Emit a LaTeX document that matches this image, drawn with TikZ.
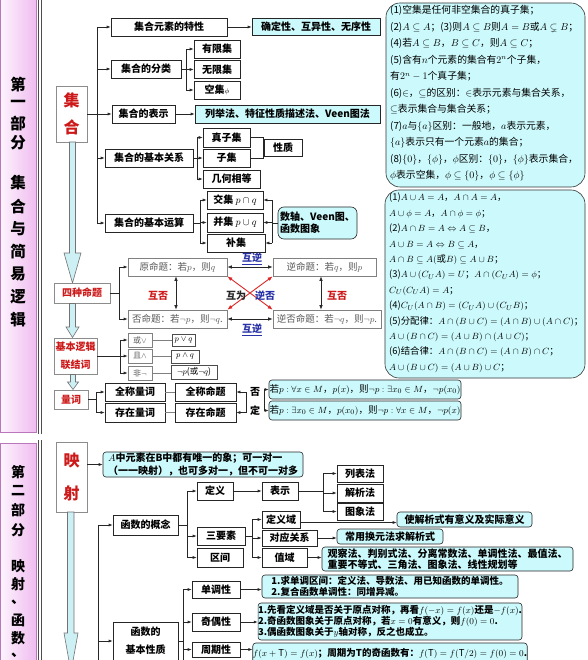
\documentclass[tikz,border=0pt]{standalone}
\usepackage{amsmath}
\usepackage{amssymb}
\usepackage{fontspec}
\setmainfont{Noto Sans CJK SC}
\usetikzlibrary{arrows.meta,calc}
\definecolor{cyanf}{RGB}{204,250,252}
\definecolor{redt}{RGB}{205,25,25}
\definecolor{redc}{RGB}{220,40,40}
\definecolor{bluet}{RGB}{40,50,165}
\definecolor{pinkl}{RGB}{253,244,253}
\definecolor{pinkr}{RGB}{240,188,240}
\definecolor{pinkd}{RGB}{185,120,185}
\definecolor{arrf}{RGB}{205,240,245}
\newcommand{\bxn}[7]{\node[#2, minimum width={(#5)-(#3)}, minimum height={(#6)-(#4)}] (#1) at ({((#3)+(#5))/2},{((#4)+(#6))/2}) {#7};}
\tikzset{
 bx/.style={draw=black!85, line width=0.6pt, fill=white, inner sep=0pt, align=center, font=\fontsize{10}{12}\selectfont\bfseries},
 cy/.style={bx, fill=cyanf},
 cyr/.style={cy, rounded corners=3pt},
 cyl/.style={cyr, align=left},
 rbx/.style={draw=black!45, line width=0.7pt, fill=white, inner sep=0pt, align=center, text=redt, font=\fontsize{10}{18}\selectfont\bfseries},
 gbx/.style={draw=black!50, line width=0.6pt, fill=white, inner sep=0pt, text=black!65, font=\fontsize{9.5}{11}\selectfont},
 sbx/.style={draw=black!70, line width=0.6pt, fill=white, inner sep=0pt, font=\fontsize{8.5}{10}\selectfont},
 side/.style={font=\fontsize{15.5}{15.5}\selectfont\bfseries, inner sep=0pt},
 arr/.style={-{Latex[length=4pt,width=3pt]}, line width=0.6pt, draw=black!85},
 ln/.style={line width=0.6pt, draw=black!85},
 gln/.style={line width=0.6pt, draw=black!50},
 darr/.style={{Latex[length=4.5pt,width=3.5pt]}-{Latex[length=4.5pt,width=3.5pt]}, line width=0.7pt, draw=black!85},
 rarr/.style={{Latex[length=5pt,width=4pt]}-{Latex[length=5pt,width=4pt]}, line width=0.9pt, draw=redc},
 bigarr/.style={fill=arrf, draw=black!55, line width=0.6pt},
 lab/.style={inner sep=0pt, font=\fontsize{10}{12}\selectfont\bfseries},
 bigbox/.style={draw=black!80, line width=0.6pt, fill=cyanf, rounded corners=14pt, inner sep=0pt},
 rtxt/.style={anchor=north west, align=left, inner sep=0pt},
}
\begin{document}
\begin{tikzpicture}[x=1pt,y=-1pt]
\useasboundingbox (0,0) rectangle (587,660);
\fill[white] (0,0) rectangle (587,660);
% ---------- sidebars ----------
\shadedraw[left color=pinkl, right color=pinkr, draw=pinkd, line width=0.8pt] (0,-2) rectangle (36,432);
\shadedraw[left color=pinkl, right color=pinkr, draw=pinkd, line width=0.8pt] (0,443) rectangle (36,665);
\draw[line width=0.8pt, black!70] (38.5,0) -- (38.5,434) (41.5,0) -- (41.5,434);
\draw[line width=0.8pt, black!70] (38.5,440) -- (38.5,660) (41.5,440) -- (41.5,660);
\foreach \c/\y [count=\i] in {第/85,一/104,部/124,分/143,集/183,合/207,与/229,简/252,易/274,逻/297,辑/320}
  \node[side] (sa\i) at (18,\y) {\c};
\foreach \c/\y [count=\i] in {第/472,二/491,部/510,分/530,映/566,射/584,、/602,函/620,数/638,、/655}
  \node[side, font=\fontsize{14}{14}\selectfont\bfseries] (sb\i) at (18,\y) {\c};
% ---------- part 1 left column ----------
\bxn{jh}{rbx, font=\fontsize{16}{27}\selectfont\bfseries}{56}{86}{87}{142}{集\\合}
\draw[bigarr] (69.5,142) -- (75.5,142) -- (75.5,253) -- (81,253) -- (72.5,283) -- (64,253) -- (69.5,253) -- cycle;
\bxn{sz}{rbx}{54}{283}{110}{303}{四种命题}
\draw[bigarr] (69.5,303.5) -- (75.5,303.5) -- (75.5,327) -- (79,327) -- (72.5,337.5) -- (66,327) -- (69.5,327) -- cycle;
\bxn{jb}{rbx}{54}{338}{97}{374}{基本逻辑\\联结词}
\draw[bigarr] (70.5,374.5) -- (75.5,374.5) -- (75.5,382) -- (78.5,382) -- (73,389.5) -- (67.5,382) -- (70.5,382) -- cycle;
\bxn{lc}{rbx}{54}{390}{88}{409}{量词}
% ---------- set tree ----------
\coordinate (t1a) at (97,27);
\coordinate (t1b) at (97,223);
\draw[ln] (t1a) -- (t1b);
\draw[ln] (jh.east) -- (jh.east -| t1a);
\bxn{a1}{bx}{111}{18}{227}{36}{集合元素的特性}
\bxn{a1r}{cy}{252}{18}{380}{35}{确定性、互异性、无序性}
\bxn{a2}{bx}{111}{60}{181}{78}{集合的分类}
\bxn{c1}{bx}{194}{40}{240}{58}{有限集}
\bxn{c2}{bx}{194}{60.5}{240}{78.5}{无限集}
\bxn{c3}{bx}{194}{81}{240}{99}{空集{\fontsize{7}{8}\selectfont$\phi$}}
\bxn{a3}{bx}{112}{105}{175}{123}{集合的表示}
\bxn{a3r}{cy}{195}{105}{380}{123}{列举法、特征性质描述法、Veen图法}
\bxn{a4}{bx}{105}{149}{193}{167}{集合的基本关系}
\bxn{d1}{bx}{203}{128}{250}{147}{真子集}
\bxn{d2}{bx}{203}{149}{250}{167}{子集}
\bxn{d3}{bx}{203}{170}{260}{188}{几何相等}
\bxn{xz}{bx}{264}{139}{302}{156}{性质}
\bxn{a5}{bx}{105}{214}{193}{232}{集合的基本运算}
\bxn{e1}{bx}{207}{191}{263}{209}{交集 $p\cap q$}
\bxn{e2}{bx}{207}{213}{263}{232}{并集 $p\cup q$}
\bxn{e3}{bx}{207}{234}{265}{252}{补集}
\bxn{f1}{cyr, rounded corners=6pt, align=left}{278}{207}{357}{239}{数轴、Veen图、\\函数图象}
\foreach \n in {a1,a2,a3,a4,a5} \draw[arr] (\n.west -| t1a) -- (\n.west);
\draw[arr] (a1.east) -- (a1.east -| a1r.west);
\draw[arr] (a3.east) -- (a3.east -| a3r.west);
\coordinate (t2a) at (186,49);
\coordinate (t2b) at (186,90);
\draw[ln] (t2a) -- (t2b);
\draw[ln] (a2.east) -- (a2.east -| t2a);
\foreach \n in {c1,c2,c3} \draw[arr] (\n.west -| t2a) -- (\n.west);
\coordinate (t3a) at (197,137.5);
\coordinate (t3b) at (197,179);
\draw[ln] (t3a) -- (t3b);
\draw[ln] (a4.east) -- (a4.east -| t3a);
\foreach \n in {d1,d2,d3} \draw[arr] (\n.west -| t3a) -- (\n.west);
\coordinate (br1) at (263.5,137.5);
\draw[ln] (d1.east) -- (d1.east -| br1) -- (d2.east -| br1) -- (d2.east);
\coordinate (t4a) at (200,200);
\coordinate (t4b) at (200,243);
\draw[ln] (t4a) -- (t4b);
\draw[ln] (a5.east) -- (a5.east -| t4a);
\foreach \n in {e1,e2,e3} \draw[arr] (\n.west -| t4a) -- (\n.west);
\coordinate (br2) at (272,200);
\draw[ln] (br2) -- (e3.east -| br2);
\draw[ln] (f1.west) -- (f1.west -| br2);
\foreach \n in {e1,e2,e3} \draw[arr] (\n.east -| br2) -- (\n.east);
% ---------- right boxes ----------
\bxn{rb1}{bigbox}{386}{3}{585}{187}{}
\node[rtxt, font=\fontsize{9.8}{16.5}\selectfont] (rb1t) at (390,5.5) {%
(1)空集是任何非空集合的真子集；\\
(2)$A\subseteq A$；(3)则$A\subseteq B$则$A=B$或$A\subsetneq B$；\\
(4)若$A\subseteq B$，$B\subseteq C$，则$A\subseteq C$；\\
(5)含有$n$个元素的集合有$2^n$个子集，\\
有$2^n-1$个真子集；\\
(6)$\in$，$\subseteq$的区别：$\in$表示元素与集合关系，\\
$\subseteq$表示集合与集合关系；\\
(7)$a$与$\{a\}$区别：一般地，$a$表示元素，\\
$\{a\}$表示只有一个元素$a$的集合；\\
(8)$\{0\}$，$\{\phi\}$，$\phi$区别：$\{0\}$，$\{\phi\}$表示集合，\\
$\phi$表示空集，$\phi\subseteq\{0\}$，$\phi\subseteq\{\phi\}$};
\bxn{rb2}{bigbox}{385}{190}{585}{378}{}
\node[rtxt, font=\fontsize{9.4}{15.4}\selectfont] (rb2t) at (389,193) {%
(1)$A\cup A=A$，$A\cap A=A$，\\
$A\cup\phi=A$，$A\cap\phi=\phi$；\\
(2)$A\cap B=A\Leftrightarrow A\subseteq B$，\\
$A\cup B=A\Leftrightarrow B\subseteq A$，\\
$A\cap B\subseteq A(\mbox{或}B)\subseteq A\cup B$；\\
(3)$A\cup(C_U A)=U$；$A\cap(C_U A)=\phi$；\\
$C_U(C_U A)=A$；\\
(4)$C_U(A\cap B)=(C_U A)\cup(C_U B)$；\\
(5)分配律：$A\cap(B\cup C)=(A\cap B)\cup(A\cap C)$；\\
$A\cup(B\cap C)=(A\cup B)\cap(A\cup C)$；\\
(6)结合律：$A\cap(B\cap C)=(A\cap B)\cap C$；\\
$A\cup(B\cup C)=(A\cup B)\cup C$；};
% ---------- four propositions ----------
\bxn{g1}{gbx}{128}{258}{227}{276}{原命题：若$p$，则$q$}
\bxn{g2}{gbx}{273}{258}{376}{276}{逆命题：若$q$，则$p$}
\bxn{g3}{gbx}{128}{310}{227}{328}{否命题：若$\neg p$，则$\neg q$.}
\bxn{g4}{gbx}{273}{310}{381}{328}{逆否命题：若$\neg q$，则$\neg p$.}
\coordinate (t5a) at (119,267);
\coordinate (t5b) at (119,319);
\draw[ln] (sz.east) -- (sz.east -| t5a);
\draw[ln] (t5a) -- (t5b);
\draw[arr] (g1.west -| t5a) -- (g1.west);
\draw[arr] (g3.west -| t5a) -- (g3.west);
\draw[darr] (g1.east) -- (g1.east -| g2.west);
\draw[darr] (g3.east) -- (g3.east -| g4.west);
\coordinate (v1) at (176,0);
\coordinate (v2) at (321,0);
\draw[darr] (g1.south -| v1) -- (g3.north -| v1);
\draw[darr] (g2.south -| v2) -- (g4.north -| v2);
\draw[rarr] (g1.south east) -- (g4.north west);
\draw[rarr] (g2.south west) -- (g3.north east);
\node[lab, text=bluet] (hn1) at (252,259) {\underline{互逆}};
\node[lab, text=bluet] (hn2) at (252,330) {\underline{互逆}};
\node[lab, text=redt] (hf1) at (158,296) {互否};
\node[lab, text=redt] (hf2) at (337,296) {互否};
\node[lab, text=black!85] (hw1) at (236,296) {互为};
\node[lab, text=bluet] (hw2) at (265,296) {逆否};
% ---------- logic connectives ----------
\bxn{h1}{gbx, font=\fontsize{8}{10}\selectfont}{128}{333}{152}{347}{或$\vee$}
\bxn{h2}{gbx, font=\fontsize{8}{10}\selectfont}{128}{349}{152}{363}{且$\wedge$}
\bxn{h3}{gbx, font=\fontsize{8}{10}\selectfont}{128}{366}{152}{380}{非$\neg$}
\bxn{i1}{sbx}{172}{334}{195}{346}{$p\vee q$}
\bxn{i2}{sbx}{171}{350}{199}{363}{$p\wedge q$}
\bxn{i3}{sbx}{171}{365}{217}{379}{$\neg p$(或$\neg q$)}
\coordinate (t6a) at (120,340);
\coordinate (t6b) at (120,373);
\draw[ln] (jb.east) -- (jb.east -| t6a);
\draw[ln] (t6a) -- (t6b);
\foreach \n in {h1,h2,h3} \draw[arr] (\n.west -| t6a) -- (\n.west);
\draw[gln] (h1.east) -- (h1.east -| i1.west);
\draw[gln] (h2.east) -- (h2.east -| i2.west);
\draw[gln] (h3.east) -- (h3.east -| i3.west);
% ---------- quantifiers ----------
\bxn{k1}{bx}{105}{383}{165}{401}{全称量词}
\bxn{k2}{bx}{105}{403}{165}{422}{存在量词}
\bxn{m1}{bx}{175}{383}{236}{401}{全称命题}
\bxn{m2}{bx}{175}{403}{236}{422}{存在命题}
\coordinate (t7a) at (96,392);
\coordinate (t7b) at (96,412.5);
\draw[ln] (lc.east) -- (lc.east -| t7a);
\draw[ln] (t7a) -- (t7b);
\draw[arr] (k1.west -| t7a) -- (k1.west);
\draw[arr] (k2.west -| t7a) -- (k2.west);
\draw[gln] (k1.east) -- (m1.west);
\draw[gln] (k2.east) -- (m2.west);
\bxn{n1}{cyr, font=\fontsize{9.5}{11}\selectfont}{269}{380}{461}{399}{若$p:\forall x\in M$，$p(x)$，则$\neg p:\exists x_0\in M$，$\neg p(x_0)$}
\bxn{n2}{cyr, font=\fontsize{9.5}{11}\selectfont}{269}{401}{461}{420}{若$p:\exists x_0\in M$，$p(x_0)$，则$\neg p:\forall x\in M$，$\neg p(x)$}
\coordinate (b5) at (246,392);
\draw[ln] (b5) -- (b5 |- m2.east);
\draw[arr] (b5) -- (m1.east);
\draw[arr] (b5 |- m2.east) -- (m2.east);
\coordinate (b6) at (264,389.5);
\draw[ln] (b6) -- (b6 |- n2.west);
\draw[arr] (b6) -- (n1.west);
\draw[arr] (b6 |- n2.west) -- (n2.west);
\node[lab] (fd1) at (255,392) {否};
\node[lab] (fd2) at (255,411) {定};
% ---------- part 2 ----------
\bxn{ys}{rbx, font=\fontsize{16}{33}\selectfont\bfseries}{56}{442}{87}{512}{映\\射}
\draw[bigarr] (67.5,512) -- (74,512) -- (74,633) -- (78,633) -- (71,672) -- (64,633) -- (67.5,633) -- cycle;
\bxn{ya}{cyl, font=\fontsize{10}{12.5}\selectfont\bfseries}{103}{452}{303}{477}{$A$中元素在B中都有唯一的象；可一对一\\（一一映射），也可多对一，但不可一对多}
\draw[arr] (ys.east |- ya.west) -- (ya.west);
\coordinate (t8a) at (98,525);
\coordinate (t8b) at (98,662);
\draw[ln] (t8a) -- (t8b);
\bxn{p1}{bx}{113}{515}{178}{535}{函数的概念}
\bxn{p2}{bx, font=\fontsize{10}{18}\selectfont\bfseries}{113}{622}{178}{660}{函数的\\基本性质}
\draw[arr] (p1.west -| t8a) -- (p1.west);
\draw[arr] (p2.west -| t8a) -- (p2.west);
\bxn{q1}{bx}{197}{482}{233}{500}{定义}
\bxn{q2}{bx}{197}{527}{245}{545}{三要素}
\bxn{q3}{bx}{197}{548}{243}{567}{区间}
\coordinate (t9a) at (187,491);
\coordinate (t9b) at (187,557.5);
\draw[ln] (p1.east) -- (p1.east -| t9a);
\draw[ln] (t9a) -- (t9b);
\foreach \n in {q1,q2,q3} \draw[arr] (\n.west -| t9a) -- (\n.west);
\bxn{r1}{bx}{262}{482}{298}{500}{表示}
\draw[arr] (q1.east) -- (r1.west);
\bxn{s1}{bx}{337}{465}{383}{482}{列表法}
\bxn{s2}{bx}{337}{484}{383}{502}{解析法}
\bxn{s3}{bx}{337}{503}{383}{520}{图象法}
\coordinate (t10a) at (323,473.5);
\coordinate (t10b) at (323,511.5);
\draw[ln] (r1.east) -- (r1.east -| t10a);
\draw[ln] (t10a) -- (t10b);
\foreach \n in {s1,s2,s3} \draw[arr] (\n.west -| t10a) -- (\n.west);
\bxn{u1}{bx}{262}{511}{300}{528}{定义域}
\bxn{u2}{bx}{262}{530}{317}{546}{对应关系}
\bxn{u3}{bx}{262}{548}{307}{567}{值域}
\coordinate (t11a) at (252,519.5);
\coordinate (t11b) at (252,557.5);
\draw[ln] (q2.east) -- (q2.east -| t11a);
\draw[ln] (t11a) -- (t11b);
\foreach \n in {u1,u2,u3} \draw[arr] (\n.west -| t11a) -- (\n.west);
\bxn{w1}{cyr}{397}{512}{532}{527}{使解析式有意义及实际意义}
\bxn{w2}{cyr}{337}{529}{443}{544}{常用换元法求解析式}
\bxn{w3}{cyl, font=\fontsize{10}{11.5}\selectfont\bfseries}{322}{547}{573}{571}{观察法、判别式法、分离常数法、单调性法、最值法、\\重要不等式、三角法、图象法、线性规划等}
\draw[arr] ([yshift=-3pt]u1.east) -- ([yshift=-3pt]u1.east -| w1.west);
\draw[arr] (u2.east) -- (u2.east -| w2.west);
\draw[arr] (u3.east) -- (u3.east -| w3.west);
\bxn{x1}{bx}{192}{581}{240}{598}{单调性}
\bxn{x2}{bx}{192}{613}{240}{631}{奇偶性}
\bxn{x3}{bx}{192}{642}{240}{657}{周期性}
\coordinate (t12a) at (183,589.5);
\coordinate (t12b) at (183,662);
\draw[ln] (p2.east) -- (p2.east -| t12a);
\draw[ln] (t12a) -- (t12b);
\foreach \n in {x1,x2,x3} \draw[arr] (\n.west -| t12a) -- (\n.west);
\bxn{y1}{cyl, font=\fontsize{9.5}{11.5}\selectfont\bfseries}{262}{575}{518}{598}{1.求单调区间：定义法、导数法、用已知函数的单调性。\\2.复合函数单调性：同增异减。}
\bxn{y2}{cyl, font=\fontsize{9.5}{11}\selectfont\bfseries}{262}{603}{518}{640}{1.先看定义域是否关于原点对称，再看$f(-x)=f(x)$还是$-f(x)$.\\2.奇函数图象关于原点对称，若$x=0$有意义，则$f(0)=0$.\\3.偶函数图象关于$y$轴对称，反之也成立。}
\bxn{y3}{cyl, font=\fontsize{9.5}{11}\selectfont\bfseries}{262}{643}{518}{664}{$f(x+\mathrm{T})=f(x)$；周期为T的奇函数有：$f(\mathrm{T})=f(\mathrm{T}/2)=f(0)=0$.}
\draw[arr] (x1.east) -- (x1.east -| y1.west);
\draw[arr] (x2.east) -- (x2.east -| y2.west);
\draw[arr] (x3.east) -- (x3.east -| y3.west);
\end{tikzpicture}
\end{document}
